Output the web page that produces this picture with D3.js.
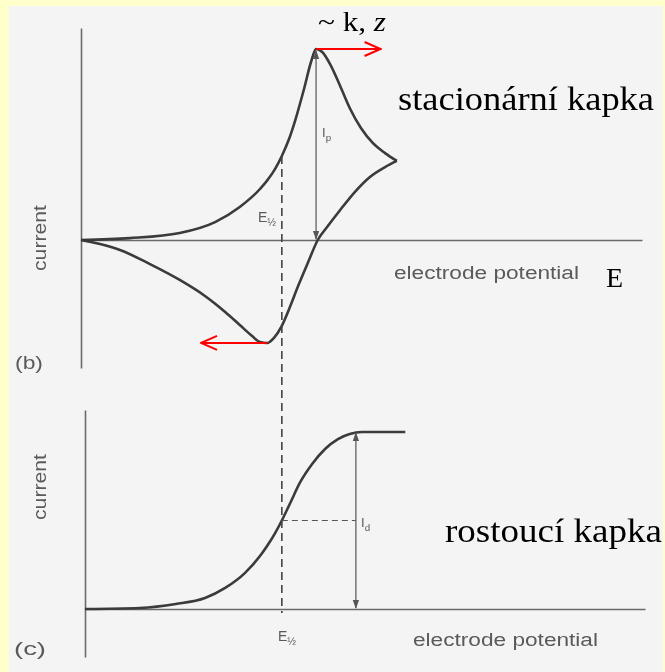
<!DOCTYPE html>
<html>
<head>
<meta charset="utf-8">
<script src="https://cdn.jsdelivr.net/npm/d3@7"></script>
<style>
  html, body { margin: 0; padding: 0; background: #ffffcc; }
  svg { display: block; }
</style>
</head>
<body>
<svg id="chart" width="665" height="672"></svg>
<script>
// Cyclic voltammogram (b): forward and reverse sweeps; current scaled so the peak is 1
const forwardE = [0, 8.7, 17.6, 23.9, 28.3, 31.9, 34.6, 35.8, 37.1, 38.2, 39.8, 41.0, 41.9,
                  43.0, 44.4, 46.2, 47.9, 49.9, 52.0, 54.2, 56.3];
const forwardI = [0, 0.01, 0.037, 0.094, 0.173, 0.267, 0.372, 0.44, 0.53, 0.628, 0.796, 0.932, 1.0,
                  0.984, 0.921, 0.806, 0.691, 0.586, 0.508, 0.455, 0.414];
const reverseE = [56.3, 54.2, 51.5, 48.8, 46.2, 44.0, 42.2, 40.5, 38.7, 37.1, 35.7, 34.4, 33.2,
                  31.9, 30.5, 28.3, 25.7, 22.1, 17.6, 12.3, 6.95, 3.4, 0];
const reverseI = [0.414, 0.382, 0.330, 0.251, 0.157, 0.073, 0.0, -0.115, -0.241, -0.361, -0.455, -0.513, -0.539,
                  -0.534, -0.503, -0.445, -0.377, -0.293, -0.209, -0.126, -0.052, -0.021, 0];

// Polarogram (c): current relative to the limiting diffusion current
const polE = [0.7, 10.5, 16.9, 22.1, 25.7, 29.2, 32.3, 34.6, 35.8, 37.3, 39.0, 41.2, 43.5, 45.8, 47.9, 50.1, 57.8];
const polI = [0, 0.006, 0.028, 0.062, 0.119, 0.203, 0.316, 0.429, 0.5, 0.599, 0.712, 0.819, 0.904, 0.960, 0.989, 1.0, 1.0];

const halfWaveE = 35.8;
const limitArrowE = 49.0;  // position of the I_d arrow
const peakShiftE = 53.4;   // where the peak moves with k, z
const minShiftE = 21.4;    // where the reverse minimum moves

// Text labels
const axisLabelY = "current";
const axisLabelX = "electrode potential";
const panelB = "(b)", panelC = "(c)";
const noteShift = "~ k, ";
const noteShiftItalic = "z";
const noteStationary = "stacionární kapka";
const noteGrowing = "rostoucí kapka";
const noteE = "E";

const svg = d3.select("#chart");
const W = 665, H = 672;

// page: yellow slide frame with the scanned figure inside
svg.append("rect").attr("width", W).attr("height", H).attr("fill", "#ffffcc");
svg.append("rect").attr("x", 9).attr("y", 6).attr("width", 654).attr("height", H - 6)
  .attr("fill", "#f4f4f4");

const defs = svg.append("defs");
defs.append("filter").attr("id", "soft").attr("x", "-5%").attr("y", "-5%")
  .attr("width", "110%").attr("height", "110%")
  .append("feGaussianBlur").attr("stdDeviation", 0.55);

defs.append("marker").attr("id", "tipGray")
  .attr("viewBox", "0 0 10 10").attr("refX", 9).attr("refY", 5)
  .attr("markerWidth", 9).attr("markerHeight", 9)
  .attr("markerUnits", "userSpaceOnUse")
  .attr("orient", "auto-start-reverse")
  .append("path").attr("d", "M0,1.5 L10,5 L0,8.5 Z").attr("fill", "#555");

defs.append("marker").attr("id", "tipRed")
  .attr("viewBox", "0 0 20 20").attr("refX", 19).attr("refY", 10)
  .attr("markerWidth", 20).attr("markerHeight", 20)
  .attr("markerUnits", "userSpaceOnUse").attr("orient", "auto")
  .append("path").attr("d", "M3,3 L19,10 L3,17")
  .attr("fill", "none").attr("stroke", "#ff0000").attr("stroke-width", 2);

// scales
const x = d3.scaleLinear().domain([0, 100]).range([81, 642]);
const xc = d3.scaleLinear().domain([0, 100]).range([85, 645]);
const yB = d3.scaleLinear().domain([0, 1]).range([240, 49]);
const yC = d3.scaleLinear().domain([0, 1]).range([609, 432]);

const scan = svg.append("g").attr("filter", "url(#soft)");
const ink = "#3a3a3a";
const textInk = "#5a5a5a";

// axes (no ticks, only the axis lines)
const yAxisB = yB.copy().domain([yB.invert(368), yB.invert(28)]).range([368, 28]);
const yAxisC = yC.copy().domain([yC.invert(657), yC.invert(410)]).range([657, 410]);
function drawAxis(g) {
  g.selectAll("path.domain").attr("stroke", "#6a6a6a").attr("stroke-width", 1.6);
}
scan.append("g").attr("transform", `translate(0,${yB(0)})`)
  .call(d3.axisBottom(x).tickValues([]).tickSizeOuter(0)).call(drawAxis);
scan.append("g").attr("transform", `translate(${x(0)},0)`)
  .call(d3.axisLeft(yAxisB).tickValues([]).tickSizeOuter(0)).call(drawAxis);
scan.append("g").attr("transform", `translate(0,${yC(0)})`)
  .call(d3.axisBottom(xc).tickValues([]).tickSizeOuter(0)).call(drawAxis);
scan.append("g").attr("transform", `translate(${xc(0)},0)`)
  .call(d3.axisLeft(yAxisC).tickValues([]).tickSizeOuter(0)).call(drawAxis);

// curves (each sweep drawn left to right, monotone in potential)
const lineB = d3.line().x(d => x(d[0])).y(d => yB(d[1])).curve(d3.curveMonotoneX);
const lineC = d3.line().x(d => x(d[0])).y(d => yC(d[1])).curve(d3.curveMonotoneX);
const fwd = d3.zip(forwardE, forwardI);
const rev = d3.zip(reverseE, reverseI).reverse();
const pol = d3.zip(polE, polI);

[fwd, rev].forEach(pts => scan.append("path").attr("d", lineB(pts))
  .attr("fill", "none").attr("stroke", ink).attr("stroke-width", 2.6)
  .attr("stroke-linejoin", "round"));
scan.append("path").attr("d", lineC(pol))
  .attr("fill", "none").attr("stroke", ink).attr("stroke-width", 2.6);

// half-wave potential (dashed line through both panels)
const halfI = forwardI[forwardE.indexOf(halfWaveE)];
scan.append("line")
  .attr("x1", x(halfWaveE)).attr("x2", x(halfWaveE))
  .attr("y1", yB(halfI)).attr("y2", yC(0) + 4)
  .attr("stroke", "#444").attr("stroke-width", 1.6).attr("stroke-dasharray", "8,5");

// peak current and limiting current arrows
const peakIdx = d3.maxIndex(forwardI);
const peakE = forwardE[peakIdx], peakI = forwardI[peakIdx];
scan.append("line")
  .attr("x1", x(peakE)).attr("x2", x(peakE))
  .attr("y1", yB(peakI) + 2).attr("y2", yB(0) - 1)
  .attr("stroke", "#555").attr("stroke-width", 1.2)
  .attr("marker-start", "url(#tipGray)").attr("marker-end", "url(#tipGray)");

const limitI = d3.max(polI);
scan.append("line")
  .attr("x1", x(limitArrowE)).attr("x2", x(limitArrowE))
  .attr("y1", yC(limitI) + 1).attr("y2", yC(0) - 1)
  .attr("stroke", "#555").attr("stroke-width", 1.2)
  .attr("marker-start", "url(#tipGray)").attr("marker-end", "url(#tipGray)");

scan.append("line")
  .attr("x1", x(halfWaveE)).attr("x2", x(limitArrowE))
  .attr("y1", yC(limitI / 2)).attr("y2", yC(limitI / 2))
  .attr("stroke", "#555").attr("stroke-width", 1.2).attr("stroke-dasharray", "6,4");

// scan labels
function sub(g, main, s, px, py, size) {
  const t = g.append("text").attr("x", px).attr("y", py)
    .attr("font-family", "Liberation Sans, Arial, sans-serif")
    .attr("font-size", size).attr("fill", textInk);
  t.append("tspan").text(main);
  t.append("tspan").attr("dy", size * 0.3).attr("font-size", size * 0.75).text(s);
  return t;
}
sub(scan, "E", "½", 258, 222, 14);
sub(scan, "I", "p", 322, 137, 13);
sub(scan, "I", "d", 361, 527, 13);
sub(scan, "E", "½", 278, 641, 14);

function sans(g, txt, px, py, size, len) {
  const t = g.append("text").attr("x", px).attr("y", py)
    .attr("font-family", "Liberation Sans, Arial, sans-serif")
    .attr("font-size", size).attr("fill", textInk).text(txt);
  if (len) t.attr("textLength", len).attr("lengthAdjust", "spacingAndGlyphs");
  return t;
}
sans(scan, axisLabelX, 394, 279, 18, 185);
sans(scan, axisLabelX, 413, 646, 18, 185);
sans(scan, panelB, 15, 369, 18, 28);
sans(scan, panelC, 14, 655, 18, 32);

[[40, 238], [40, 487]].forEach(([cx, cy]) => {
  scan.append("text")
    .attr("transform", `translate(${cx + 6},${cy}) rotate(-90)`)
    .attr("text-anchor", "middle")
    .attr("font-family", "Liberation Sans, Arial, sans-serif")
    .attr("font-size", 18).attr("fill", textInk)
    .attr("textLength", 66).attr("lengthAdjust", "spacingAndGlyphs")
    .text(axisLabelY);
});

// slide annotations (sharp, on top of the scan)
const minIdx = d3.minIndex(reverseI);
const minE = reverseE[minIdx], minI = reverseI[minIdx];
svg.append("line")
  .attr("x1", x(peakE)).attr("x2", x(peakShiftE))
  .attr("y1", yB(peakI)).attr("y2", yB(peakI))
  .attr("stroke", "#ff0000").attr("stroke-width", 2)
  .attr("marker-end", "url(#tipRed)");
svg.append("line")
  .attr("x1", x(minE)).attr("x2", x(minShiftE))
  .attr("y1", yB(minI)).attr("y2", yB(minI))
  .attr("stroke", "#ff0000").attr("stroke-width", 2)
  .attr("marker-end", "url(#tipRed)");

function serif(txt, px, py, size, len) {
  const t = svg.append("text").attr("x", px).attr("y", py)
    .attr("font-family", "Liberation Serif, Times New Roman, serif")
    .attr("font-size", size).attr("fill", "#000");
  if (txt !== null) t.text(txt);
  if (len) t.attr("textLength", len).attr("lengthAdjust", "spacingAndGlyphs");
  return t;
}
const shift = serif(null, 318, 31, 27, 68);
shift.append("tspan").text(noteShift);
shift.append("tspan").attr("font-style", "italic").text(noteShiftItalic);
serif(noteStationary, 398, 110, 33, 256);
serif(noteE, 606, 287, 28);
serif(noteGrowing, 445, 542, 34, 217);
</script>
</body>
</html>
